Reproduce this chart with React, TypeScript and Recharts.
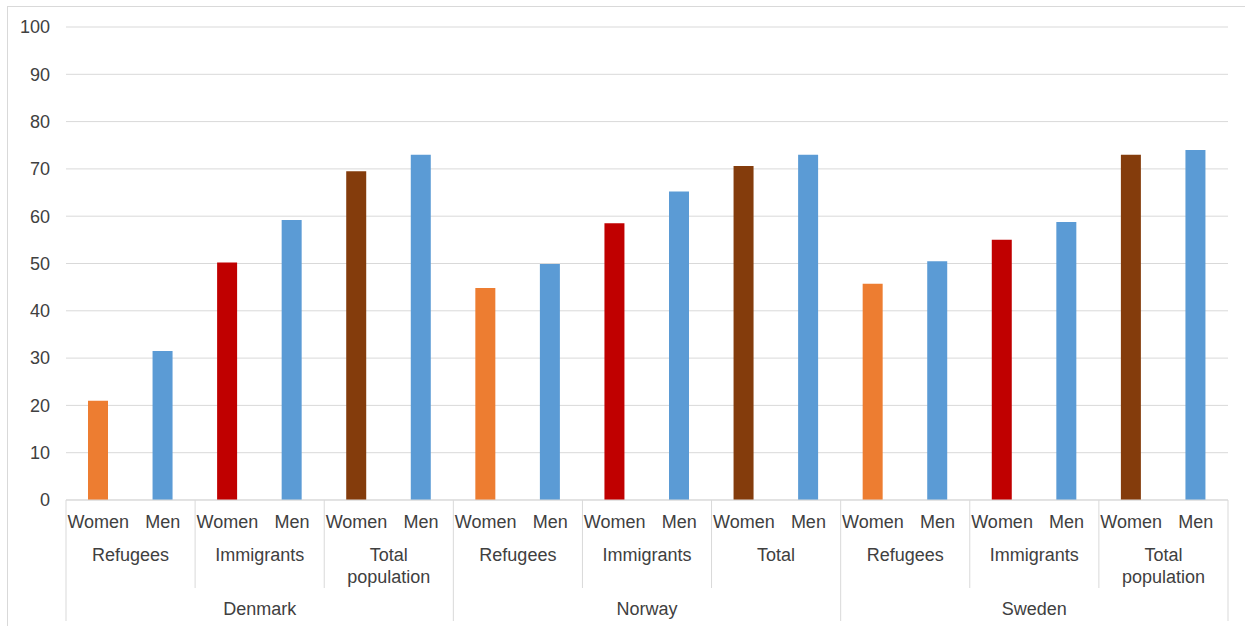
import React from 'react';
import { BarChart, Bar, Cell, XAxis, YAxis, CartesianGrid } from 'recharts';

const countries = ['Denmark', 'Norway', 'Sweden'];
const groupLabels = [
  ['Refugees', 'Immigrants', 'Total population'],
  ['Refugees', 'Immigrants', 'Total'],
  ['Refugees', 'Immigrants', 'Total population'],
];
const sexes = ['Women', 'Men'];
// one value per country/group, in order
const womenValues = [21, 50.2, 69.5, 44.8, 58.5, 70.6, 45.7, 55, 73];
const menValues = [31.5, 59.2, 73, 49.9, 65.2, 73, 50.5, 58.8, 74];
const yTicks = [0, 10, 20, 30, 40, 50, 60, 70, 80, 90, 100];

const WOMEN_COLORS = ['#ED7D31', '#C00000', '#843C0C'];
const MEN_COLOR = '#5B9BD5';
const GRID = '#d9d9d9';
const TEXT = '#404040';
const FONT = '"Liberation Sans", Arial, sans-serif';

const WIDTH = 1237;
const HEIGHT = 619;
const MARGIN = { top: 20, right: 17, left: 0, bottom: 0 };
const Y_WIDTH = 58;
const X_HEIGHT = 126;
const PLOT_W = WIDTH - MARGIN.left - MARGIN.right - Y_WIDTH;
const AXIS_Y = HEIGHT - MARGIN.bottom - X_HEIGHT;
const BAND = PLOT_W / (womenValues.length * 2);

const rows = countries.flatMap((country, c) =>
  groupLabels[c].flatMap((group, g) =>
    sexes.map((sex) => ({
      key: `${country}-${group}-${sex}`,
      country,
      group,
      sex,
      value: sex === 'Women' ? womenValues[c * 3 + g] : menValues[c * 3 + g],
      color: sex === 'Women' ? WOMEN_COLORS[g] : MEN_COLOR,
    }))
  )
);

const MultiTick = (props: any) => {
  const { x, index } = props;
  const row = rows[index];
  if (!row) return null;
  const left = x - BAND / 2;
  const els: React.ReactNode[] = [];
  els.push(
    <text key="s" x={x} y={AXIS_Y + 28} textAnchor="middle" fill={TEXT} fontSize={18} fontFamily={FONT}>
      {row.sex}
    </text>
  );
  if (index % 2 === 0) {
    const full = index % 6 === 0;
    els.push(
      <line key="sep" x1={left} x2={left} y1={AXIS_Y} y2={AXIS_Y + (full ? 121 : 88)} stroke={GRID} />
    );
    const words = row.group.split(' ');
    els.push(
      <text key="g" x={x + BAND / 2} y={AXIS_Y + 61} textAnchor="middle" fill={TEXT} fontSize={18} fontFamily={FONT}>
        {words.map((w, i) => (
          <tspan key={i} x={x + BAND / 2} dy={i === 0 ? 0 : 22}>
            {w}
          </tspan>
        ))}
      </text>
    );
    if (full) {
      els.push(
        <text key="c" x={x + BAND * 2.5} y={AXIS_Y + 115} textAnchor="middle" fill={TEXT} fontSize={18} fontFamily={FONT}>
          {row.country}
        </text>
      );
    }
  }
  if (index === rows.length - 1) {
    const right = x + BAND / 2;
    els.push(<line key="end" x1={right} x2={right} y1={AXIS_Y} y2={AXIS_Y + 121} stroke={GRID} />);
  }
  return <g>{els}</g>;
};

export default function App() {
  return (
    <div
      style={{
        position: 'absolute',
        left: 7,
        top: 6,
        width: 1238,
        height: 620,
        borderTop: `1px solid ${GRID}`,
        borderLeft: `1px solid ${GRID}`,
        background: '#fff',
      }}
    >
      <BarChart width={WIDTH} height={HEIGHT} data={rows} margin={MARGIN} barSize={20}>
        <CartesianGrid vertical={false} stroke={GRID} />
        <XAxis
          dataKey="key"
          interval={0}
          height={X_HEIGHT}
          tickLine={false}
          axisLine={{ stroke: GRID }}
          tick={<MultiTick />}
        />
        <YAxis
          width={Y_WIDTH}
          domain={[0, 100]}
          ticks={yTicks}
          interval={0}
          axisLine={false}
          tickLine={false}
          tickMargin={10}
          tick={{ fontSize: 18, fill: TEXT, fontFamily: FONT }}
        />
        <Bar dataKey="value" isAnimationActive={false}>
          {rows.map((r) => (
            <Cell key={r.key} fill={r.color} />
          ))}
        </Bar>
      </BarChart>
    </div>
  );
}
